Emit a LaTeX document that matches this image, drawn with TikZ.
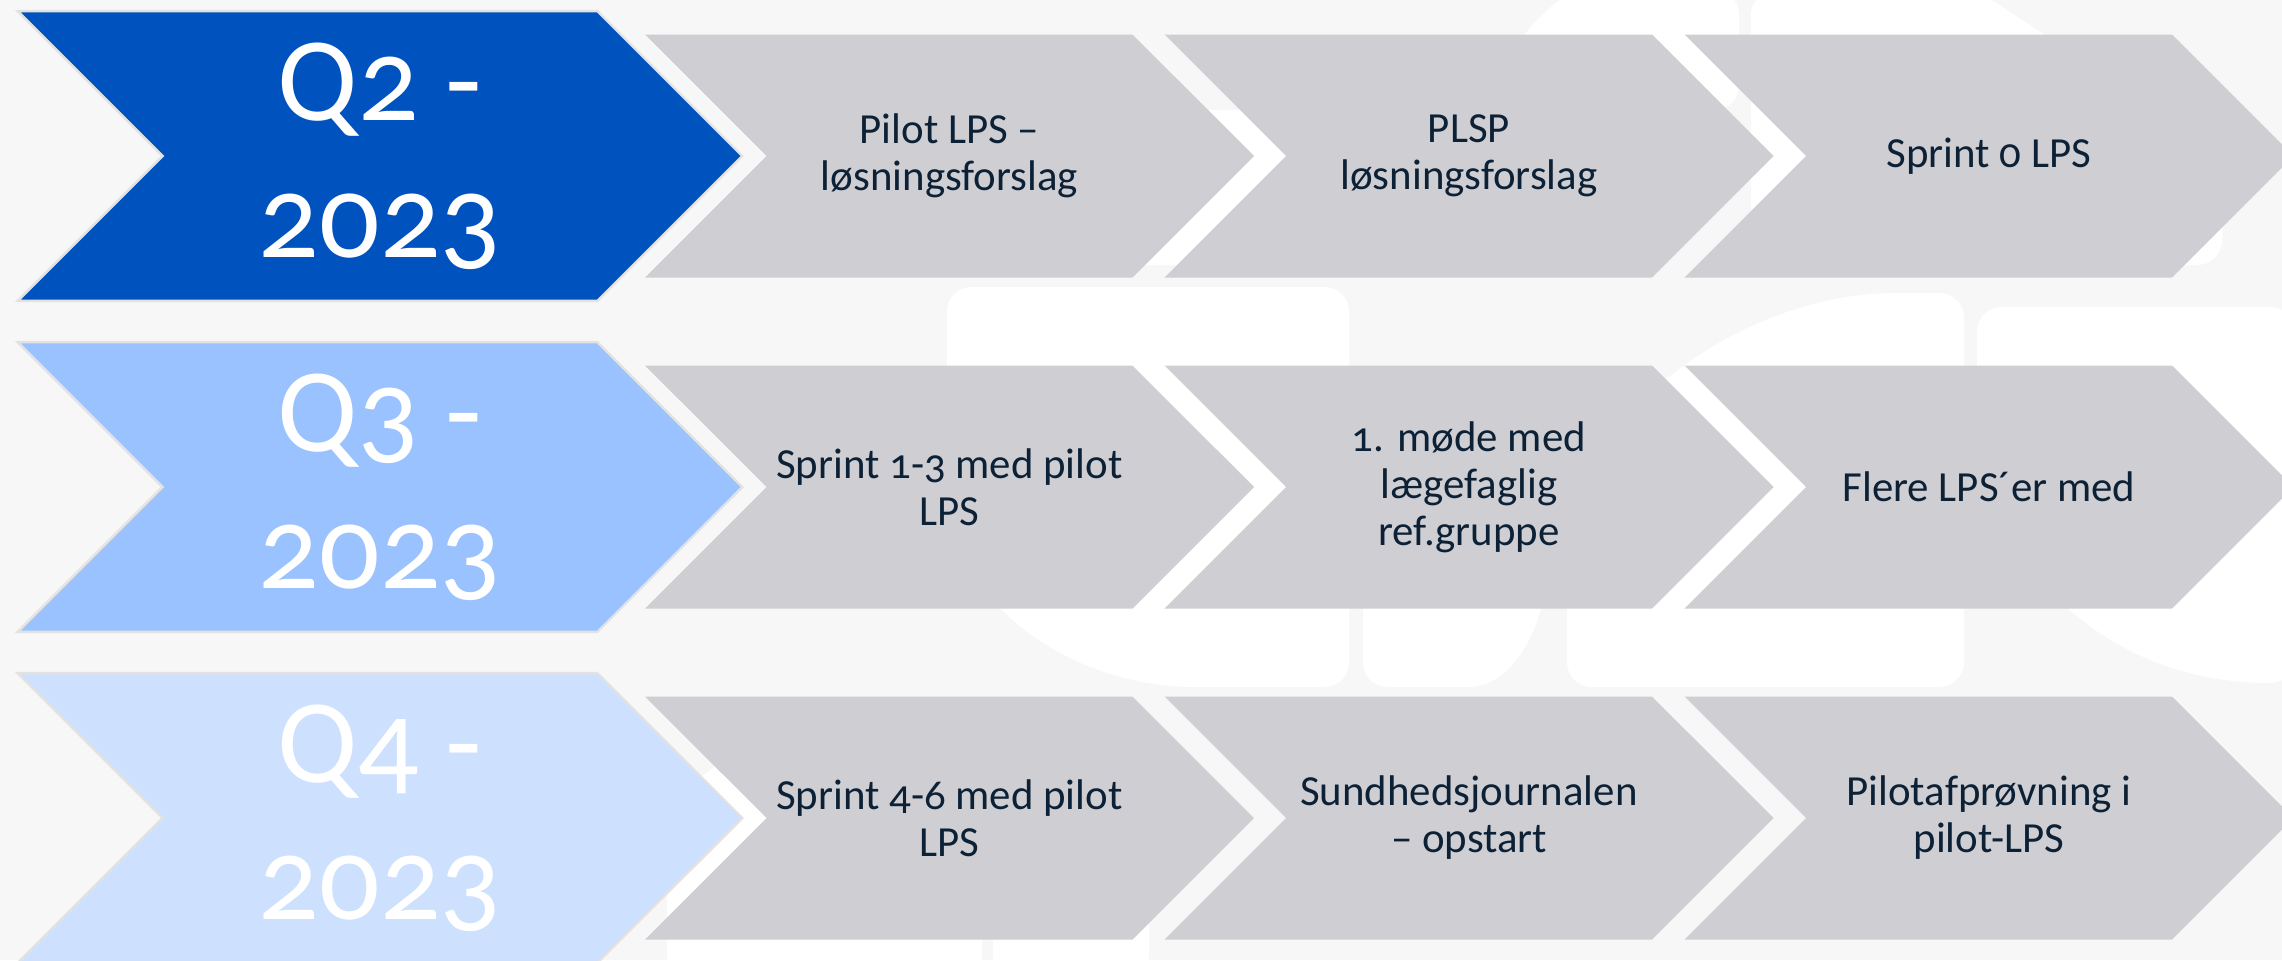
\documentclass[tikz,border=0pt]{standalone}
\usepackage{fontspec}
\setmainfont{Carlito}[Numbers=OldStyle]
\usetikzlibrary{shapes.symbols}

\definecolor{bgpaper}{HTML}{F7F7F7}
\definecolor{qdark}{HTML}{0052BE}
\definecolor{qmid}{HTML}{99C2FF}
\definecolor{qlight}{HTML}{CDE1FF}
\definecolor{stepgray}{HTML}{CFCFD3}
\definecolor{edgegray}{HTML}{E2E2E2}
\definecolor{inknavy}{HTML}{0D2136}

\begin{document}
\begin{tikzpicture}[
    quarter/.style={signal, signal to=east, signal from=west, signal pointer angle=90,
        minimum width=7.245cm, minimum height=2.897cm, inner sep=0pt,
        draw=edgegray, line width=0.7pt, text=white, align=center,
        font=\fontsize{34}{39}\selectfont},
    task/.style={signal, signal to=east, signal from=west, signal pointer angle=90,
        minimum width=6.09cm, minimum height=2.43cm, inner sep=0pt,
        fill=stepgray, text=inknavy, align=center,
        font=\fontsize{12.2}{13.4}\selectfont},
    wmark/.style={fill=white, rounded corners=7pt}
]
    % Draw background
    \fill[bgpaper] (0,0) rectangle (22.82,9.60);
    \useasboundingbox (0,0) rectangle (22.82,9.60);

    % Draw watermark (logo letters behind the steps)
    \fill[wmark] (9.47,6.73) -- (13.49,6.73) -- (13.49,2.73) -- (12.2,2.73)
        .. controls (10.6,2.73) and (9.47,3.7) .. (9.47,4.9) -- cycle;
    \fill[wmark] (13.63,5.0) -- (13.63,2.73) -- (14.45,2.73)
        .. controls (15.1,2.73) and (15.48,3.3) .. (15.48,4.3) -- (15.48,5.0) -- cycle;
    \fill[wmark] (15.67,2.73) -- (19.64,2.73) -- (19.64,6.67) -- (19.2,6.67)
        .. controls (17.4,6.67) and (15.67,5.4) .. (15.67,3.77) -- cycle;
    \fill[wmark] (19.77,6.53) -- (22.95,6.53) -- (22.95,2.77)
        .. controls (20.8,2.77) and (19.77,4.3) .. (19.77,5.6) -- cycle;
    \fill[wmark] (14.9,8.5) -- (15.22,9.27) -- (15.70,9.70) -- (17.39,9.70) -- (17.39,8.5) -- cycle;
    \fill[wmark] (17.51,9.70) -- (19.78,9.70)
        .. controls (20.5,9.2) and (22.22,8.2) .. (22.22,7.2) -- (22.22,6.95) -- (17.51,6.95) -- cycle;
    \fill[wmark] (10.9,6.95) rectangle (14.15,8.5);
    \fill[wmark] (6.67,-0.2) -- (6.67,1.2) .. controls (6.9,2.0) and (7.8,2.27) .. (8.6,2.27)
        -- (9.82,2.27) -- (9.82,-0.2) -- cycle;
    \fill[wmark] (9.93,-0.2) rectangle (11.49,0.67);

    % Q2 row
    \node[quarter, fill=qdark] (q2) at (3.80,8.04) {Q2 -\\2023};
    \node[task] (q2a) at (9.495,8.04) {Pilot LPS –\\løsningsforslag};
    \node[task] (q2b) at (14.69,8.04) {PLSP\\løsningsforslag};
    \node[task] (q2c) at (19.89,8.04) {Sprint 0 LPS};

    % Q3 row
    \node[quarter, fill=qmid] (q3) at (3.80,4.73) {Q3 -\\2023};
    \node[task] (q3a) at (9.495,4.73) {Sprint 1-3 med pilot\\LPS};
    \node[task] (q3b) at (14.69,4.73) {1. møde med\\lægefaglig\\ref.gruppe};
    \node[task] (q3c) at (19.89,4.73) {Flere LPS´er med};

    % Q4 row
    \node[quarter, fill=qlight] (q4) at (3.80,1.42) {Q4 -\\2023};
    \node[task] (q4a) at (9.495,1.42) {Sprint 4-6 med pilot\\LPS};
    \node[task] (q4b) at (14.69,1.42) {Sundhedsjournalen\\– opstart};
    \node[task] (q4c) at (19.89,1.42) {Pilotafprøvning i\\pilot-LPS};

\end{tikzpicture}
\end{document}
